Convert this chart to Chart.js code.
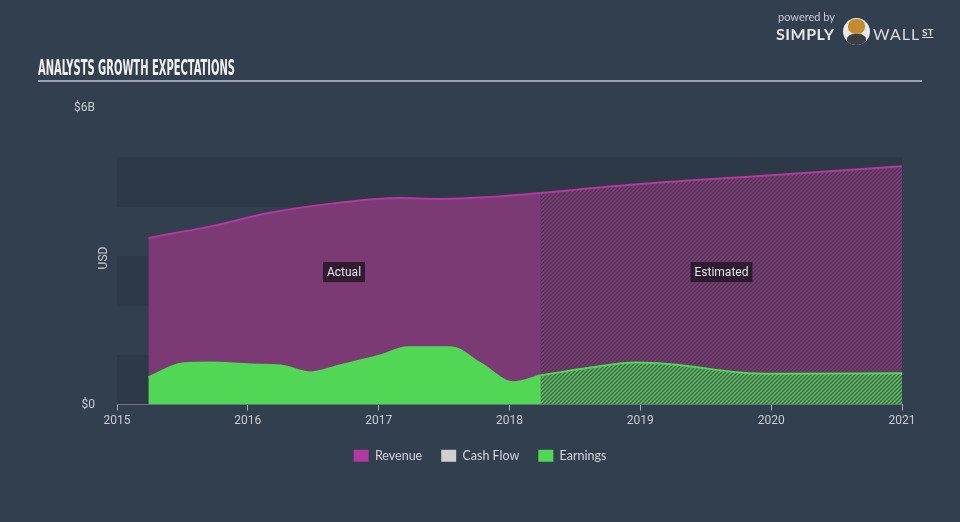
<!DOCTYPE html>
<html>
<head>
<meta charset="utf-8">
<script src="https://cdn.jsdelivr.net/npm/chart.js@4.4.1/dist/chart.umd.min.js"></script>
<style>
  html, body { margin: 0; padding: 0; }
  body { width: 960px; height: 522px; background: #323f4e; position: relative; overflow: hidden; font-family: Roboto, "DejaVu Sans", sans-serif; }
  #chart { position: absolute; left: 0; top: 0; }
  .title { position: absolute; left: 38px; top: 55px; color: #f2f2f2; font-family: "Liberation Sans Narrow", "DejaVu Sans Condensed", sans-serif; font-weight: bold; font-size: 22px; transform-origin: left top; white-space: nowrap; }
  .rule { position: absolute; left: 38px; top: 80px; width: 884px; height: 2px; background: #9aa3ad; }
  .logo { position: absolute; left: 776px; top: 10px; color: #e8e8e8; white-space: nowrap; }
  .logo .pb { position: absolute; left: 2px; top: 0; font-size: 11px; color: #c9cdd2; font-family: Lato, sans-serif; }
  .logo .simply { position: absolute; left: 0; top: 14px; font-size: 16px; font-weight: bold; font-family: Lato, sans-serif; letter-spacing: 0.5px; }
  .logo .bull { position: absolute; left: 67px; top: 8px; width: 27px; height: 27px; border-radius: 50%; background: #e9e9e9; overflow: hidden; }
  .logo .bull::before { content: ""; position: absolute; left: 5px; top: 1px; width: 17px; height: 15px; border-radius: 45%; background: #c58a2b; }
  .logo .bull::after { content: ""; position: absolute; left: 4px; top: 16px; width: 19px; height: 12px; border-radius: 40% 40% 0 0; background: #3b3f45; }
  .logo .wall { position: absolute; left: 97px; top: 14px; font-size: 16px; font-family: Lato, sans-serif; letter-spacing: 1px; color: #dcdcdc; }
  .logo .st { position: absolute; left: 146px; top: 16px; font-size: 10px; font-weight: bold; font-family: Lato, sans-serif; text-decoration: underline; color: #dcdcdc; }
</style>
</head>
<body>
<canvas id="chart" width="960" height="522"></canvas>
<div class="title" id="title">ANALYSTS GROWTH EXPECTATIONS</div>
<div class="rule"></div>
<div class="logo">
  <span class="pb">powered by</span>
  <span class="simply">SIMPLY</span>
  <span class="bull"></span>
  <span class="wall">WALL</span>
  <span class="st">ST</span>
</div>
<script>
// values in $B, x in fractional years
const revenueYears = [2015.24, 2015.76, 2016.15, 2016.65, 2017.16, 2017.47, 2017.85, 2018.24];
const revenueActual = [3.37, 3.63, 3.87, 4.07, 4.18, 4.16, 4.20, 4.28];
const revenueEstYears = [2018.24, 2019.0, 2020.0, 2021.0];
const revenueEstimated = [4.28, 4.46, 4.64, 4.82];

const earningsYears = [2015.24, 2015.5, 2015.71, 2016.02, 2016.25, 2016.48, 2016.7, 2017.01, 2017.22, 2017.55, 2017.78, 2018.03, 2018.24];
const earningsActual = [0.55, 0.83, 0.85, 0.81, 0.79, 0.65, 0.79, 0.99, 1.16, 1.16, 0.83, 0.45, 0.59];
const earningsEstYears = [2018.24, 2018.62, 2018.97, 2019.25, 2019.76, 2020.01, 2021.0];
const earningsEstimated = [0.59, 0.75, 0.85, 0.81, 0.65, 0.62, 0.63];

const legendNames = ['Revenue', 'Cash Flow', 'Earnings'];
const legendColors = ['#b2399f', '#d0d0d0', '#52d655'];
const yTickLabels = { 0: '$0', 6: '$6B' };

// squeeze the title to the reference width
const titleEl = document.getElementById('title');
titleEl.style.transform = 'scaleX(' + (197 / titleEl.offsetWidth) + ')';

function pts(xs, ys) { return xs.map((x, i) => ({ x: x, y: ys[i] })); }

function hatch(bg, fg) {
  const c = document.createElement('canvas');
  c.width = 4; c.height = 4;
  const g = c.getContext('2d');
  g.fillStyle = bg; g.fillRect(0, 0, 4, 4);
  g.strokeStyle = fg; g.lineWidth = 1.5;
  g.beginPath();
  g.moveTo(-1, 5); g.lineTo(5, -1);
  g.moveTo(-1, 1); g.lineTo(1, -1);
  g.moveTo(3, 5); g.lineTo(5, 3);
  g.stroke();
  return g.createPattern(c, 'repeat');
}

const bands = {
  id: 'bands',
  beforeDatasetsDraw(chart) {
    const { ctx, chartArea: a, scales: { y } } = chart;
    ctx.save();
    ctx.fillStyle = '#2d3946';
    for (let v = 0; v < 6; v += 2) {
      const t = y.getPixelForValue(v + 1), b = y.getPixelForValue(v);
      ctx.fillRect(a.left, t, a.right - a.left, b - t);
    }
    ctx.restore();
  }
};

const tags = {
  id: 'tags',
  afterDatasetsDraw(chart) {
    const { ctx, scales: { x, y } } = chart;
    ctx.save();
    ctx.font = '12px Roboto, sans-serif';
    ctx.textAlign = 'center';
    ctx.textBaseline = 'middle';
    [['Actual', 2016.735], ['Estimated', 2019.62]].forEach(([t, v]) => {
      const cx = x.getPixelForValue(v), cy = y.getPixelForValue(2.68);
      const w = ctx.measureText(t).width + 8;
      ctx.fillStyle = 'rgba(35,22,40,0.85)';
      ctx.fillRect(cx - w / 2, cy - 10, w, 20);
      ctx.fillStyle = '#e6e6e6';
      ctx.fillText(t, cx, cy + 1);
    });
    // USD axis title
    ctx.translate(104, 258);
    ctx.rotate(-Math.PI / 2);
    ctx.fillStyle = '#c8cdd2';
    ctx.fillText('USD', 0, 0);
    ctx.restore();
  }
};

const line = { tension: 0.4, cubicInterpolationMode: 'monotone', pointRadius: 0, fill: 'origin', borderWidth: 2 };

new Chart(document.getElementById('chart'), {
  type: 'line',
  data: {
    datasets: [
      Object.assign({ label: 'Earnings', data: pts(earningsYears, earningsActual), borderColor: '#52d655', backgroundColor: '#52d655', order: 0 }, line),
      Object.assign({ label: 'Earnings est', data: pts(earningsEstYears, earningsEstimated), borderColor: '#52d655', backgroundColor: hatch('#3e5f4b', '#5ec45f'), order: 0 }, line),
      Object.assign({ label: 'Revenue', data: pts(revenueYears, revenueActual), borderColor: '#b2399f', backgroundColor: '#7b3a74', order: 1 }, line),
      Object.assign({ label: 'Revenue est', data: pts(revenueEstYears, revenueEstimated), borderColor: '#b2399f', backgroundColor: hatch('#4a3551', '#853d7c'), order: 1 }, line)
    ]
  },
  options: {
    responsive: false,
    animation: false,
    layout: { padding: { top: 108, left: 0, right: 0, bottom: 50 } },
    scales: {
      x: {
        type: 'linear', min: 2015, max: 2021,
        ticks: { stepSize: 1, color: '#c8cdd2', font: { size: 12, family: 'Roboto' }, padding: 3, callback: v => String(v) },
        grid: { drawOnChartArea: false, drawTicks: true, tickLength: 6, color: '#a9b1ba' },
        border: { color: '#a9b1ba', width: 1 },
        afterFit: s => { s.height = 26; }
      },
      y: {
        min: 0, max: 6,
        ticks: { stepSize: 1, color: '#c8cdd2', font: { size: 12, family: 'Roboto' }, padding: 14, callback: v => yTickLabels[v] || '' },
        grid: { display: false },
        border: { display: false },
        afterFit: s => { s.width = 117; }
      },
      spacer: {
        position: 'right', min: 0, max: 6,
        ticks: { display: false }, grid: { display: false }, border: { display: false },
        afterFit: s => { s.width = 58; }
      }
    },
    plugins: {
      tooltip: { enabled: false },
      legend: {
        position: 'bottom',
        onClick: null,
        labels: {
          color: '#d3d6da', font: { size: 12.5, family: 'Lato' }, boxWidth: 15, boxHeight: 12, padding: 19,
          generateLabels: () => legendNames.map((n, i) => ({ text: n, fillStyle: legendColors[i], strokeStyle: legendColors[i], lineWidth: 0, fontColor: '#d3d6da' }))
        }
      }
    }
  },
  plugins: [bands, tags]
});
</script>
</body>
</html>
